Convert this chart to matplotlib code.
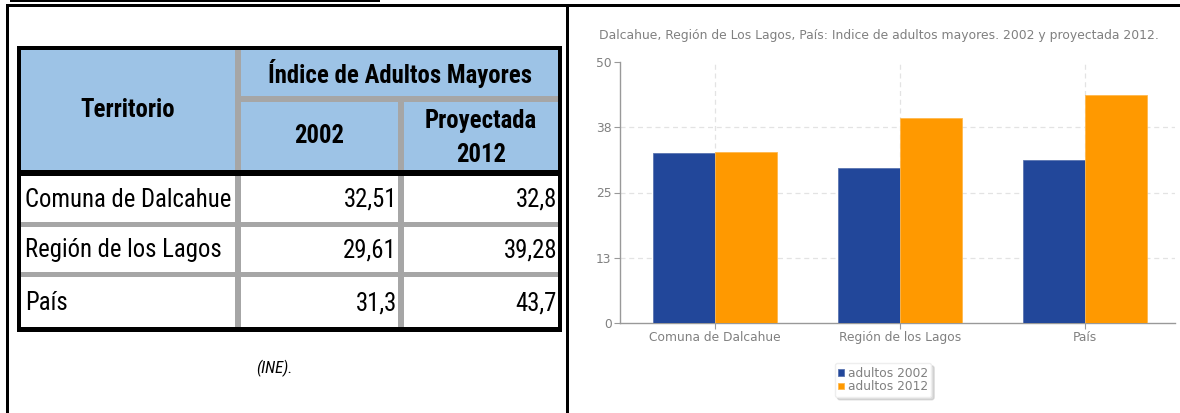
import matplotlib
matplotlib.use("Agg")
import matplotlib.pyplot as plt
from matplotlib.patches import Rectangle
from matplotlib import font_manager

# ---------------- data ----------------
territorios = ["Comuna de Dalcahue", "Región de los Lagos", "País"]
indice_2002 = [32.51, 29.61, 31.3]
indice_2012 = [32.8, 39.28, 43.7]
serie_labels = ["adultos 2002", "adultos 2012"]
ytick_vals = [0, 12.5, 25, 37.5, 50]
ytick_labels = ["0", "13", "25", "38", "50"]
titulo = "Dalcahue, Región de Los Lagos, País: Indice de adultos mayores. 2002 y proyectada 2012."
hdr_territorio = "Territorio"
hdr_indice = "Índice de Adultos Mayores"
hdr_2002 = "2002"
hdr_2012 = "Proyectada\n2012"
fuente = "(INE)."

BLUE = "#22479A"
ORANGE = "#FF9900"
HDR = "#9DC3E6"
GRAY = "#A6A6A6"
TXT = "#808080"

# pick a condensed font for the table if one is installed
names = {f.name for f in font_manager.fontManager.ttflist}
cond_files = [f for f in font_manager.fontManager.ttflist
              if ("Narrow" in f.name or "Condensed" in f.name
                  or "condensed" in str(f.stretch) or "Condensed" in f.fname
                  or "Narrow" in f.fname)]
narrow = None
for cand in ["Liberation Sans Narrow", "Arial Narrow", "Roboto Condensed",
             "Open Sans Condensed", "Noto Sans Condensed"]:
    if cand in names:
        narrow = dict(family=[cand, "DejaVu Sans"])
        break
if narrow is None:
    dj = [f for f in cond_files if f.name == "DejaVu Sans"]
    if dj:
        narrow = dict(family=["DejaVu Sans"], fontstretch="condensed")
if narrow is None and cond_files:
    narrow = dict(family=[cond_files[0].name, "DejaVu Sans"])
if narrow is None:
    tprops = dict(family=["Liberation Sans", "DejaVu Sans"])
    fs = 15.5
else:
    tprops = narrow
    fs = 17.8

W, H = 1180, 413
fig = plt.figure(figsize=(W / 100, H / 100), dpi=100)

# ---------------- pixel overlay for frame and table ----------------
ov = fig.add_axes([0, 0, 1, 1])
ov.set_xlim(0, W)
ov.set_ylim(H, 0)
ov.axis("off")

def rect(x0, y0, x1, y1, color, z=1):
    ov.add_patch(Rectangle((x0, y0), x1 - x0, y1 - y0, facecolor=color,
                           edgecolor="none", zorder=z))

# page frame
rect(10, 0, 380, 1.5, "black")
rect(6, 4, W, 7, "black")
rect(6, 4, 8.5, H, "black")
rect(566, 4, 568.5, H, "black")

# table geometry (layout)
L, R = 17, 562
T, B = 46, 332
c1, c2 = 235, 241
c3, c4 = 398, 404
h1, h2 = 96, 102
hb1, hb2 = 170, 176
r1 = (222, 227)
r2 = (272, 277)

rect(L, T, R, hb1, HDR, 1)
rect(L, hb2, R, B, "white", 1)
rect(c1, T, c2, B, GRAY, 2)
rect(c2, h1, R, h2, GRAY, 2)
rect(c3, h2, c4, B, GRAY, 2)
rect(L, r1[0], R, r1[1], GRAY, 2)
rect(L, r2[0], R, r2[1], GRAY, 2)
rect(L, T, R, T + 4, "black", 3)
rect(L, B - 5, R, B, "black", 3)
rect(L, T, L + 4, B, "black", 3)
rect(R - 4, T, R, B, "black", 3)
rect(L, hb1, R, hb2, "black", 3)

ov.text((L + 4 + c1) / 2, (T + 4 + hb1) / 2, hdr_territorio, ha="center", va="center",
        fontsize=fs, fontweight="bold", zorder=5, **tprops)
ov.text((c2 + R - 4) / 2, (T + 4 + h1) / 2, hdr_indice, ha="center", va="center",
        fontsize=fs, fontweight="bold", zorder=5, **tprops)
ov.text((c2 + c3) / 2, (h2 + hb1) / 2, hdr_2002, ha="center", va="center",
        fontsize=fs, fontweight="bold", zorder=5, **tprops)
ov.text((c4 + R - 4) / 2, (h2 + hb1) / 2 + 2, hdr_2012, ha="center", va="center",
        fontsize=fs, fontweight="bold", linespacing=1.5, zorder=5, **tprops)

row_bounds = [(hb2, r1[0]), (r1[1], r2[0]), (r2[1], B - 5)]
for (ya, yb), name, v1, v2 in zip(row_bounds, territorios, indice_2002, indice_2012):
    yc = (ya + yb) / 2 + 1
    ov.text(L + 8, yc, name, ha="left", va="center", fontsize=fs, zorder=5, **tprops)
    ov.text(c3 - 1, yc, f"{v1:g}".replace(".", ","), ha="right", va="center",
            fontsize=fs, zorder=5, **tprops)
    ov.text(R - 5, yc, f"{v2:g}".replace(".", ","), ha="right", va="center",
            fontsize=fs, zorder=5, **tprops)

ov.text(274, 368, fuente, ha="center", va="center", fontsize=12, style="italic",
        zorder=5, **tprops)

# ---------------- bar chart ----------------
ax = fig.add_axes([620 / W, 1 - 323 / H, (1175 - 620) / W, (323 - 62) / H])
x = list(range(len(territorios)))
bw = 0.335
ax.bar([i - bw / 2 for i in x], indice_2002, width=bw, color=BLUE, edgecolor="#5a74b0",
       linewidth=0.6, label=serie_labels[0], zorder=3)
ax.bar([i + bw / 2 for i in x], indice_2012, width=bw, color=ORANGE, edgecolor="#ffb84d",
       linewidth=0.6, label=serie_labels[1], zorder=3)
ax.set_xlim(-0.514, 2.486)
ax.set_ylim(0, 50)
ax.set_yticks(ytick_vals)
ax.set_yticklabels(ytick_labels)
ax.set_xticks(x)
ax.set_xticklabels(territorios)
for s in ["top", "right"]:
    ax.spines[s].set_visible(False)
for s in ["left", "bottom"]:
    ax.spines[s].set_color("#999999")
    ax.spines[s].set_linewidth(1.0)
ax.tick_params(axis="both", colors="#999999", labelcolor=TXT, labelsize=8.8, length=4,
               width=0.8, pad=2)
ax.grid(True, color="#e3e3e3", linestyle=(0, (4, 3)), linewidth=0.9, zorder=0)
ax.set_axisbelow(True)
ygl = ax.get_ygridlines()
ygl[0].set_visible(False)
ygl[-1].set_visible(False)
ax.set_facecolor("none")

fig.text(879 / W, 1 - 36 / H, titulo, ha="center", va="center", fontsize=8.9, color=TXT)

leg = ax.legend(loc="center", bbox_to_anchor=(883 / W, 1 - 380 / H),
                bbox_transform=fig.transFigure, fontsize=8.8, frameon=True,
                fancybox=True, shadow={"ox": 2, "oy": -2, "color": "#bbbbbb"},
                handlelength=0.45, handleheight=0.45, handletextpad=0.3,
                labelspacing=0.05, borderpad=0.3, edgecolor="#eeeeee",
                framealpha=1)
for t in leg.get_texts():
    t.set_color(TXT)

fig.savefig("out.png", dpi=100)
